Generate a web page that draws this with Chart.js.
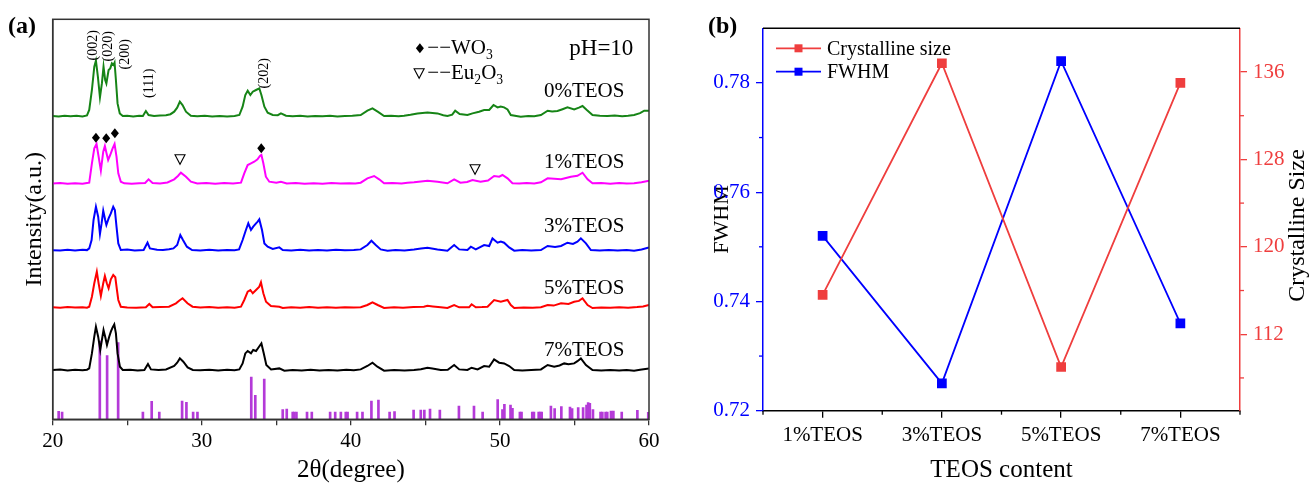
<!DOCTYPE html>
<html>
<head>
<meta charset="utf-8">
<script src="https://cdn.jsdelivr.net/npm/chart.js@4.4.1/dist/chart.umd.min.js"></script>
<style>
  html, body { margin: 0; padding: 0; background: #fff; }
  #wrap { position: relative; width: 1309px; height: 486px; }
  #boxA { position: absolute; left: 0; top: 0; width: 665px; height: 486px; }
  #boxB { position: absolute; left: 665px; top: 0; width: 644px; height: 486px; }
</style>
</head>
<body>
<div id="wrap">
  <div id="boxA"><canvas id="xrd"></canvas></div>
  <div id="boxB"><canvas id="fwhm"></canvas></div>
</div>
<script>
// ---- (a) XRD patterns: [2θ, intensity above the pattern's own baseline] ----
const SAMPLES = ['0%TEOS', '1%TEOS', '3%TEOS', '5%TEOS', '7%TEOS'];
const OFFSETS = [302.6, 235.3, 168.6, 111.3, 48.6];
const X_TICKS = [20, 25, 30, 35, 40, 45, 50, 55, 60];

const xrd0 = [[20,0.6],[20.4,0.2],[20.8,1.0],[21.2,0.4],[21.6,0.9],[22.0,0.3],[22.3,1.2],[22.45,6.7],[22.63,26.7],[22.79,50],[22.9,56],[23.03,40],[23.17,19.3],[23.3,33.3],[23.41,50],[23.52,36.7],[23.6,33.3],[23.75,46.7],[23.86,48.3],[23.97,53.3],[24.08,51.7],[24.15,54],[24.24,36.7],[24.35,13.3],[24.5,3.3],[24.7,0.7],[25.0,1.0],[25.4,0.3],[25.8,0.9],[26.05,0.7],[26.25,5.7],[26.43,1.7],[26.8,0.6],[27.2,1.2],[27.6,1.5],[27.9,2.5],[28.15,5],[28.35,9],[28.53,15],[28.71,11.7],[28.94,5],[29.27,1],[29.7,0.4],[30.2,0.9],[30.7,0.3],[31.2,0.8],[31.7,0.2],[32.2,0.7],[32.52,1.7],[32.74,10],[32.92,21.7],[33.08,26],[33.26,21.7],[33.42,25],[33.64,26.7],[33.86,28.3],[34.0,21.7],[34.2,10],[34.42,4],[34.76,1.7],[35.1,1.5],[35.31,3.3],[35.65,1],[36.1,0.5],[36.6,0.9],[37.1,0.3],[37.6,0.8],[38.1,0.4],[38.6,0.9],[39.1,0.3],[39.6,0.7],[40.1,0.9],[40.66,1.7],[41.11,6],[41.45,8.3],[41.8,5],[42.23,0.7],[42.7,0.9],[43.2,0.4],[43.57,1],[44.0,2],[44.47,3.3],[45.14,4.3],[45.81,3.3],[46.2,1.5],[46.48,0.7],[46.8,2],[47.0,6],[47.3,2.7],[47.82,1.7],[48.16,3.3],[48.6,5],[48.94,6.7],[49.28,6.7],[49.57,11.7],[49.84,9.3],[50.05,10.2],[50.28,9.3],[50.51,7.3],[50.73,1.7],[51.1,0.8],[51.4,0],[51.9,0.7],[52.3,0.4],[52.75,1.7],[53.2,6],[53.5,5.2],[53.86,5.7],[54.2,7.5],[54.53,9.3],[54.98,7.3],[55.3,9],[55.54,10.7],[55.83,6.7],[56.21,1.7],[56.7,0.9],[57.22,0.7],[57.7,1.2],[58.2,0.5],[58.6,1.0],[59.0,1.7],[59.4,3.5],[59.68,6],[60,6]];

const xrd1 = [[20,0.4],[20.5,1.0],[21.0,0.3],[21.5,0.8],[22.0,0.2],[22.3,0.9],[22.45,1.3],[22.63,20.7],[22.79,35.7],[22.94,40],[23.08,27.3],[23.23,13.3],[23.39,32.3],[23.5,38],[23.61,30.7],[23.72,24],[23.86,29],[24.02,35.7],[24.15,40],[24.28,27.3],[24.4,10.7],[24.57,2.3],[24.8,0.7],[25.3,0.2],[25.8,0.8],[26.2,1],[26.43,4.7],[26.7,1],[27.2,0.6],[27.7,1.5],[28.15,4.7],[28.4,8],[28.6,11.3],[28.94,7.3],[29.27,2.3],[29.7,0.5],[30.3,1.0],[30.9,0.3],[31.5,0.9],[32.1,0.4],[32.63,1.3],[32.85,10.7],[33.08,19],[33.3,20.7],[33.52,22.3],[33.74,24.7],[33.9,28],[34.0,29],[34.13,20.7],[34.3,7.3],[34.53,2.3],[35.0,1.2],[35.31,2.3],[35.7,0.6],[36.3,1.0],[36.9,0.3],[37.5,0.8],[38.1,0.2],[38.7,0.9],[39.3,0.4],[39.9,0.8],[40.3,0.5],[40.66,1.3],[41.11,5.7],[41.56,8],[41.9,4.7],[42.23,0.7],[42.8,0.9],[43.4,0.4],[43.8,1.2],[44.24,1.7],[44.7,2.6],[45.14,3.3],[45.81,2.3],[46.48,0.7],[46.93,4.7],[47.35,1.3],[47.8,2],[48.16,4],[48.7,2.3],[49.2,3.5],[49.61,8],[49.95,7.3],[50.17,9],[50.51,5.7],[50.84,0.7],[51.3,0.4],[51.8,0.9],[52.3,0.5],[52.75,1.7],[53.2,5.7],[54.1,4.7],[54.76,7.3],[55.2,8.2],[55.54,11.3],[55.88,4.7],[56.21,0.7],[56.8,0.9],[57.4,0.3],[58.0,0.9],[58.5,0.4],[59.0,0.7],[59.5,1.8],[60,3.3]];

const xrd2 = [[20,0.5],[20.5,0.1],[21.0,0.9],[21.5,0.3],[22.0,1.0],[22.3,0.6],[22.45,2.3],[22.61,10.7],[22.74,30.7],[22.9,44],[23.05,34],[23.17,16.7],[23.28,27.3],[23.39,40],[23.52,30.7],[23.6,25.7],[23.75,32.3],[23.9,37.3],[24.06,44],[24.17,40.7],[24.28,24],[24.4,7.3],[24.57,0.7],[25.0,1.1],[25.5,0.3],[26.1,0.7],[26.36,8],[26.52,2.3],[27.0,0.9],[27.4,0.7],[27.8,1.5],[28.1,2.3],[28.35,5.7],[28.56,15.7],[28.74,10.7],[29.0,4],[29.35,0.7],[29.9,0.2],[30.5,0.9],[31.1,0.3],[31.7,0.8],[32.2,0.5],[32.5,1.3],[32.74,10.7],[32.96,20.7],[33.12,27.3],[33.3,20.7],[33.45,24],[33.64,27.3],[33.75,29],[33.86,31.3],[34.04,20.7],[34.2,7.3],[34.42,4],[34.76,1.7],[35.2,3.3],[35.43,0.7],[36.0,0.3],[36.6,0.9],[37.2,0.2],[37.8,0.7],[38.4,0.3],[39.0,0.9],[39.6,0.4],[40.2,0.6],[40.66,1.3],[41.11,5.7],[41.38,10],[41.67,5.7],[42.0,1.3],[42.46,0],[43.0,0.6],[43.6,0.3],[44.24,1.3],[44.7,2.2],[45.14,3],[45.81,1.3],[46.48,0],[46.93,5.7],[47.27,1.3],[47.82,0.7],[48.05,4],[48.38,1.3],[48.94,5.7],[49.28,4.7],[49.5,12.3],[49.84,8],[50.06,9.2],[50.28,8],[50.62,3.3],[50.96,0],[51.5,0.6],[52.1,0.2],[52.75,0.7],[53.2,4.7],[53.7,3.6],[54.1,4.7],[54.53,8],[54.9,6.8],[55.2,9],[55.43,12.3],[55.77,7.3],[56.1,0.7],[56.7,0.3],[57.3,0.8],[57.9,0.2],[58.5,0.7],[59.0,0],[59.5,1.2],[60,3.3]];

const xrd3 = [[20,0.7],[20.5,0.2],[21.0,1.0],[21.5,0.4],[22.0,0.8],[22.3,0.3],[22.45,1.3],[22.63,11.3],[22.79,24.7],[22.96,36.3],[23.08,24.7],[23.23,12],[23.39,24.7],[23.5,32],[23.63,24.7],[23.75,19.7],[23.9,28.7],[24.06,33],[24.2,30.7],[24.31,18],[24.4,8],[24.57,1.3],[25.0,0.6],[25.6,0.2],[26.25,0.7],[26.48,4],[26.7,0.7],[27.2,0.9],[27.8,1.3],[28.27,4.7],[28.5,7.5],[28.71,9.7],[29.04,4.7],[29.38,1.3],[29.9,0.4],[30.5,0.9],[31.1,0.2],[31.7,0.8],[32.2,0.3],[32.63,1.3],[32.85,8],[33.08,16.3],[33.26,18],[33.42,14.7],[33.64,18],[33.86,21.3],[33.97,25.7],[34.13,14.7],[34.31,6.3],[34.64,2],[35.2,1.3],[35.43,0],[36.0,0.7],[36.6,0.2],[37.2,0.9],[37.8,0.3],[38.4,0.8],[39.0,0.2],[39.6,0.7],[40.2,0.4],[40.66,0.7],[41.11,3],[41.45,5.7],[41.8,3],[42.23,0],[42.9,0.7],[43.5,0.2],[44.2,0.9],[44.9,1.3],[45.14,2.3],[45.5,1.6],[46.03,0.7],[46.48,0],[46.93,3],[47.27,0.7],[47.93,0.7],[48.1,3.7],[48.38,0.7],[48.8,0.9],[49.17,1.3],[49.61,8],[50.06,6.3],[50.3,7.2],[50.51,8],[50.73,3],[50.96,0],[51.6,0.6],[52.2,0.2],[52.75,0.7],[53.2,3],[53.6,2.4],[54.1,4.7],[54.6,4.1],[54.98,6.3],[55.3,7.1],[55.54,9.7],[55.88,3],[56.21,0],[56.8,0.6],[57.4,0.2],[58.0,0.8],[58.6,0.3],[59.2,0.9],[59.6,1.6],[60,3]];

const xrd4 = [[20,0.6],[20.5,1.1],[21.0,0.3],[21.5,0.9],[22.0,0.4],[22.3,1.0],[22.45,2.3],[22.63,17.3],[22.79,34],[22.9,44],[23.05,34],[23.19,20.7],[23.3,30.7],[23.41,40.7],[23.52,34],[23.64,25.7],[23.79,34],[23.9,39],[24.02,43.3],[24.13,46.3],[24.24,37.3],[24.35,17.3],[24.51,4],[24.7,0.7],[25.2,1.0],[25.7,0.3],[26.15,0.7],[26.39,6.7],[26.59,1.3],[27.1,0.8],[27.6,1.3],[28.15,4.7],[28.35,8],[28.53,12.3],[28.76,9],[29.05,3.3],[29.4,0.7],[29.9,0.4],[30.5,1.0],[31.1,0.3],[31.7,0.9],[32.2,0.5],[32.52,1.3],[32.74,7.3],[32.92,17.3],[33.08,19.7],[33.3,17.3],[33.45,20.7],[33.64,19.7],[33.84,24],[34.0,27.3],[34.16,17.3],[34.33,5.7],[34.65,1.3],[35.2,2.3],[35.54,0],[36.1,0.7],[36.7,0.2],[37.3,0.9],[37.9,0.3],[38.5,0.8],[39.1,0.3],[39.7,0.9],[40.2,0.5],[40.66,1.3],[41.11,4.7],[41.45,8],[41.78,4],[42.23,0],[42.9,0.6],[43.6,0.2],[44.24,0.7],[44.7,1.5],[45.14,3],[45.47,2.3],[46.03,0.7],[46.5,0.9],[46.93,5.7],[47.27,1.3],[47.82,0.7],[48.1,3],[48.5,1.3],[48.94,4.7],[49.28,4],[49.61,11.3],[49.95,8],[50.28,7.3],[50.62,4.7],[50.96,0.7],[51.5,0.3],[52.1,0.8],[52.75,1.3],[53.2,5.7],[53.64,4],[54.0,5.2],[54.31,7.3],[54.6,6.4],[54.98,7.3],[55.2,9.5],[55.43,12.3],[55.77,5.7],[56.21,0.7],[56.8,0.3],[57.4,0.8],[58.0,0.2],[58.5,0.7],[59.0,0],[59.4,1.0],[60,2.3]];

// standard card sticks [2θ, relative height]
const cardLines = [[20.40,8],[20.63,7.3],[23.16,78.3],[23.65,63.6],[24.39,76.6],[26.05,7.3],[26.64,18],[27.15,7.3],[28.68,18.3],[28.97,17],[29.42,7.3],[29.71,7.3],[33.32,42.3],[33.59,24],[34.19,40.3],[35.43,9.7],[35.70,10.3],[36.1,7.3],[36.2,7.3],[36.35,7.3],[37.06,7.3],[37.38,7.3],[38.61,7.3],[38.95,7.3],[39.33,7.3],[39.66,7.3],[39.78,7.3],[40.42,7.3],[40.78,7.3],[41.38,18.3],[41.85,19.3],[42.6,7.3],[42.93,7.6],[44.21,9.3],[44.69,9.3],[44.93,9.3],[45.31,10.3],[45.97,9.3],[47.25,13.3],[48.26,13.3],[48.84,7.3],[49.85,19.7],[50.17,9.7],[50.3,15],[50.71,14.3],[50.84,11],[51.34,7.3],[51.45,7.3],[52.17,7.3],[52.28,7.3],[52.6,7.3],[52.7,7.3],[52.8,7.3],[53.42,13.3],[53.67,10.7],[54.12,12.7],[54.7,12.3],[54.84,10.7],[55.25,11.7],[55.58,11.7],[55.81,14.3],[55.92,16.7],[56.03,16],[56.24,9.7],[56.75,7.3],[56.87,7.3],[57.09,7.3],[57.2,7.3],[57.45,8.3],[57.61,8.3],[58.17,7.3],[59.22,9],[59.95,7]];

// ---- (b) FWHM and crystalline size ----
const categories = ['1%TEOS', '3%TEOS', '5%TEOS', '7%TEOS'];
const crystSize = [115.6, 136.8, 109.0, 135.0];
const fwhm = [0.752, 0.725, 0.784, 0.736];
const FWHM_TICKS = [0.72, 0.74, 0.76, 0.78];
const FWHM_MINOR = [0.73, 0.75, 0.77];
const SIZE_TICKS = [112, 120, 128, 136];
const SIZE_MINOR = [108, 116, 124, 132];

const SERIF = "'Liberation Serif', 'Times New Roman', serif";
const XRD_COLORS = ['#168416', '#ff00ff', '#0000ff', '#ff0000', '#000000'];
const RED = '#ef3e3e';
const BLUE = '#0000ff';

Chart.defaults.font.family = SERIF;
Chart.defaults.color = '#000';

// ---------- panel (a) ----------
const xrdSets = [xrd0, xrd1, xrd2, xrd3, xrd4].map((pts, i) => ({
    type: 'line',
    label: SAMPLES[i],
    data: pts.map(([x, v]) => ({ x: x, y: v + OFFSETS[i] })),
    borderColor: XRD_COLORS[i],
    borderWidth: 2,
    pointRadius: 0,
    tension: 0,
    order: 1
}));

const cardSet = {
    type: 'bar',
    label: 'card',
    data: cardLines.map(([x, h]) => ({ x: x, y: h })),
    backgroundColor: '#b43ad8',
    barThickness: 2,
    grouped: false,
    order: 2
};

function diamond(ctx, cx, cy) {
    ctx.beginPath();
    ctx.moveTo(cx, cy - 5); ctx.lineTo(cx + 4, cy); ctx.lineTo(cx, cy + 5); ctx.lineTo(cx - 4, cy);
    ctx.closePath(); ctx.fill();
}
function triangleDown(ctx, cx, cy) {
    ctx.beginPath();
    ctx.moveTo(cx - 5, cy - 4.5); ctx.lineTo(cx + 5, cy - 4.5); ctx.lineTo(cx, cy + 5);
    ctx.closePath(); ctx.stroke();
}
// text with a subscript digit, e.g. Eu2O3
function subText(ctx, parts, x, y, size) {
    let cx = x;
    parts.forEach(([t, sub]) => {
        ctx.font = (sub ? size * 0.65 : size) + 'px ' + SERIF;
        ctx.fillText(t, cx, sub ? y + size * 0.22 : y);
        cx += ctx.measureText(t).width;
    });
}

const annotA = {
    id: 'annotA',
    afterDatasetsDraw(chart) {
        const { ctx, chartArea: ca, scales: { x, y } } = chart;
        const px = v => x.getPixelForValue(v);
        const py = v => y.getPixelForValue(v);
        ctx.save();
        // frame
        ctx.strokeStyle = '#333';
        ctx.lineWidth = 1.5;
        ctx.strokeRect(ca.left, ca.top, ca.right - ca.left, ca.bottom - ca.top);

        ctx.fillStyle = '#000';
        // sample names
        ctx.font = '21px ' + SERIF;
        ctx.textAlign = 'right';
        ctx.textBaseline = 'alphabetic';
        const nameY = [322, 251, 187.6, 125.3, 63.6];
        SAMPLES.forEach((s, i) => ctx.fillText(s, px(58.35), py(nameY[i])));
        ctx.font = '23px ' + SERIF;
        ctx.fillText('pH=10', px(58.95), py(364.3));

        // phase legend
        ctx.textAlign = 'left';
        diamond(ctx, px(44.63), py(371));
        subText(ctx, [['−−WO', false], ['3', true]], px(45.13), py(365), 21);
        ctx.strokeStyle = '#000';
        ctx.lineWidth = 1.1;
        triangleDown(ctx, px(44.58), py(346));
        subText(ctx, [['−−Eu', false], ['2', true], ['O', false], ['3', true]], px(45.13), py(340), 21);

        // peak markers
        [[22.9, 281.6], [23.59, 281], [24.17, 286], [33.99, 271]].forEach(([a, b]) => diamond(ctx, px(a), py(b)));
        [[28.54, 260], [48.33, 250]].forEach(([a, b]) => triangleDown(ctx, px(a), py(b)));

        // miller indices
        ctx.font = '14px ' + SERIF;
        ctx.textAlign = 'center';
        ctx.textBaseline = 'middle';
        [['(002)', 22.72, 374], ['(020)', 23.74, 373], ['(200)', 24.89, 365], ['(111)', 26.5, 336], ['(202)', 34.2, 346]]
            .forEach(([t, a, b]) => {
                ctx.save();
                ctx.translate(px(a), py(b));
                ctx.rotate(-Math.PI / 2);
                ctx.fillText(t, 0, 0);
                ctx.restore();
            });

        // panel letter
        ctx.font = 'bold 24px ' + SERIF;
        ctx.textAlign = 'left';
        ctx.textBaseline = 'alphabetic';
        ctx.fillText('(a)', 8, 33);
        ctx.restore();
    }
};

new Chart(document.getElementById('xrd'), {
    type: 'line',
    data: { datasets: [...xrdSets, cardSet] },
    options: {
        responsive: true,
        maintainAspectRatio: false,
        animation: false,
        layout: { padding: { top: 19.3, right: 16, left: 0, bottom: 0 } },
        plugins: { legend: { display: false }, tooltip: { enabled: false } },
        scales: {
            x: {
                type: 'linear',
                min: 20, max: 60,
                offset: false,
                afterBuildTicks: s => { s.ticks = X_TICKS.map(v => ({ value: v })); },
                afterFit: s => { s.height = 66.7; },
                ticks: {
                    autoSkip: false, maxRotation: 0, padding: 4,
                    font: { size: 21 },
                    callback: v => (v % 10 === 0 ? v : '')
                },
                grid: { drawOnChartArea: false, offset: false, tickLength: 6, color: '#333', lineWidth: 1.3 },
                border: { color: '#333', width: 1.5 },
                title: { display: true, text: '2θ(degree)', font: { size: 25 }, padding: { top: 0, bottom: 1 } }
            },
            y: {
                min: 0, max: 400,
                afterFit: s => { s.width = 52.7; },
                ticks: { display: false },
                grid: { display: false },
                border: { color: '#333', width: 1.5 },
                title: { display: true, text: 'Intensity(a.u.)', font: { size: 24 }, padding: { top: 20, bottom: 0 } }
            }
        }
    },
    plugins: [annotA]
});

// ---------- panel (b) ----------
const annotB = {
    id: 'annotB',
    afterDraw(chart) {
        const { ctx, chartArea: ca, scales } = chart;
        ctx.save();
        // top frame
        ctx.strokeStyle = '#000';
        ctx.lineWidth = 1.5;
        ctx.beginPath();
        ctx.moveTo(ca.left, ca.top); ctx.lineTo(ca.right, ca.top);
        ctx.stroke();

        // minor ticks
        ctx.lineWidth = 1.3;
        ctx.strokeStyle = BLUE;
        FWHM_MINOR.forEach(v => {
            const yy = scales.y.getPixelForValue(v);
            ctx.beginPath(); ctx.moveTo(ca.left - 4, yy); ctx.lineTo(ca.left, yy); ctx.stroke();
        });
        ctx.strokeStyle = RED;
        SIZE_MINOR.forEach(v => {
            const yy = scales.y1.getPixelForValue(v);
            ctx.beginPath(); ctx.moveTo(ca.right, yy); ctx.lineTo(ca.right + 4, yy); ctx.stroke();
        });
        ctx.strokeStyle = '#000';
        for (let k = -0.5; k <= categories.length - 0.5; k += 1) {
            const xx = scales.x.getPixelForValue(k);
            ctx.beginPath(); ctx.moveTo(xx, ca.bottom); ctx.lineTo(xx, ca.bottom + 4); ctx.stroke();
        }

        // right axis title (reads bottom to top)
        ctx.fillStyle = '#000';
        ctx.font = '24px ' + SERIF;
        ctx.textAlign = 'center';
        ctx.textBaseline = 'middle';
        ctx.save();
        ctx.translate(633, (ca.top + ca.bottom) / 2 + 6);
        ctx.rotate(-Math.PI / 2);
        ctx.fillText('Crystalline Size', 0, 0);
        ctx.restore();

        // legend
        ctx.textAlign = 'left';
        ctx.font = '20px ' + SERIF;
        chart.data.datasets.forEach((ds, i) => {
            const ly = ca.top + 20 + i * 23.4;
            const x0 = ca.left + 13;
            ctx.strokeStyle = ds.borderColor;
            ctx.lineWidth = 1.8;
            ctx.beginPath(); ctx.moveTo(x0, ly); ctx.lineTo(x0 + 45, ly); ctx.stroke();
            ctx.fillStyle = ds.borderColor;
            ctx.fillRect(x0 + 22.5 - 4, ly - 4, 8, 8);
            ctx.fillStyle = '#000';
            ctx.fillText(ds.label, x0 + 51, ly + 1);
        });

        // panel letter
        ctx.font = 'bold 24px ' + SERIF;
        ctx.textBaseline = 'alphabetic';
        ctx.fillText('(b)', 43, 33);
        ctx.restore();
    }
};

new Chart(document.getElementById('fwhm'), {
    type: 'line',
    data: {
        labels: categories,
        datasets: [
            {
                label: 'Crystalline size',
                data: crystSize,
                yAxisID: 'y1',
                borderColor: RED,
                backgroundColor: RED,
                borderWidth: 1.8,
                pointStyle: 'rect',
                pointRadius: 5.6,
                tension: 0
            },
            {
                label: 'FWHM',
                data: fwhm,
                yAxisID: 'y',
                borderColor: BLUE,
                backgroundColor: BLUE,
                borderWidth: 1.8,
                pointStyle: 'rect',
                pointRadius: 5.6,
                tension: 0
            }
        ]
    },
    options: {
        responsive: true,
        maintainAspectRatio: false,
        animation: false,
        layout: { padding: { top: 28.3, right: 0, left: 0, bottom: 0 } },
        plugins: { legend: { display: false }, tooltip: { enabled: false } },
        scales: {
            x: {
                offset: true,
                afterFit: s => { s.height = 75.3; },
                ticks: { font: { size: 21 }, padding: 5, maxRotation: 0 },
                grid: { drawOnChartArea: false, offset: false, tickLength: 7, color: '#000', lineWidth: 1.3 },
                border: { color: '#000', width: 1.5 },
                title: { display: true, text: 'TEOS content', font: { size: 25 }, padding: { top: 0, bottom: 1 } }
            },
            y: {
                position: 'left',
                min: 0.72, max: 0.79,
                afterBuildTicks: s => { s.ticks = FWHM_TICKS.map(v => ({ value: v })); },
                afterFit: s => { s.width = 98; },
                ticks: { color: BLUE, font: { size: 21 }, padding: 6, callback: v => v.toFixed(2) },
                grid: { drawOnChartArea: false, tickLength: 7, color: BLUE, lineWidth: 1.3 },
                border: { color: BLUE, width: 1.5 },
                title: { display: true, text: 'FWHM', font: { size: 22 }, padding: { top: 44, bottom: 0 } }
            },
            y1: {
                position: 'right',
                min: 105, max: 140,
                afterBuildTicks: s => { s.ticks = SIZE_TICKS.map(v => ({ value: v })); },
                afterFit: s => { s.width = 69; },
                ticks: { color: RED, font: { size: 21 }, padding: 6 },
                grid: { drawOnChartArea: false, tickLength: 7, color: RED, lineWidth: 1.3 },
                border: { color: RED, width: 1.5 }
            }
        }
    },
    plugins: [annotB]
});
</script>
</body>
</html>
